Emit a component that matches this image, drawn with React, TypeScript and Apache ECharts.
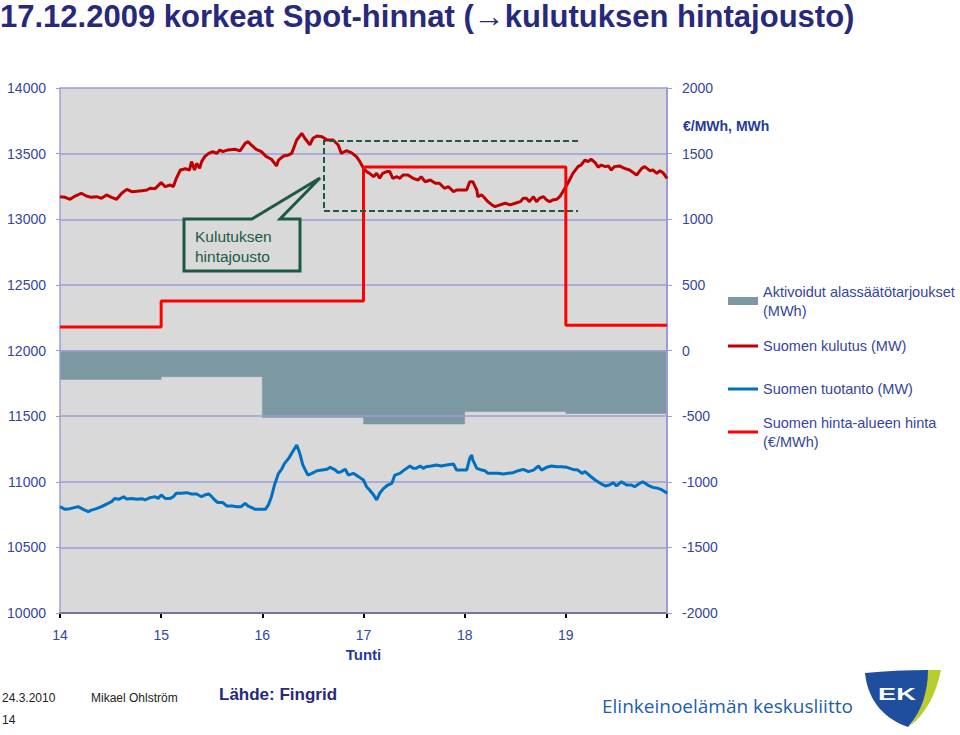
import React, { useEffect, useRef } from "react";
import * as echarts from "echarts";

// ---------- data ----------
const hourTicks = [14, 15, 16, 17, 18, 19, 20];
const leftTicks = [10000, 10500, 11000, 11500, 12000, 12500, 13000, 13500, 14000];
const rightTicks = [-2000, -1500, -1000, -500, 0, 500, 1000, 1500, 2000];

// hourly price (€/MWh), step held until next hour
const priceHours = [14, 15, 16, 17, 18, 19, 20];
const priceValues = [180, 377, 377, 1398, 1398, 193, 193];

// activated down-regulation bids (MWh), step held until next hour
const downRegHours = [14, 15, 16, 17, 18, 19, 20];
const downRegValues = [-220, -200, -510, -560, -465, -480, -480];

// Finnish consumption (MW): [hour, value]
const consumption: [number, number][] = [
  [14.0, 13172], [14.05, 13167], [14.1, 13152], [14.15, 13177], [14.21, 13198], [14.26, 13177],
  [14.31, 13167], [14.36, 13172], [14.41, 13160], [14.46, 13185], [14.51, 13167], [14.56, 13152],
  [14.61, 13198], [14.66, 13228], [14.71, 13210], [14.76, 13213], [14.81, 13218], [14.86, 13223],
  [14.89, 13236], [14.94, 13233], [15.0, 13279], [15.04, 13248], [15.09, 13261], [15.12, 13248],
  [15.15, 13312], [15.19, 13375], [15.24, 13385], [15.28, 13375], [15.3, 13439], [15.33, 13375],
  [15.35, 13426], [15.38, 13388], [15.4, 13439], [15.43, 13477], [15.47, 13502], [15.51, 13515],
  [15.55, 13502], [15.58, 13528], [15.61, 13515], [15.66, 13528], [15.73, 13533], [15.78, 13521],
  [15.83, 13578], [15.86, 13591], [15.89, 13566], [15.94, 13533], [15.99, 13515], [16.04, 13477],
  [16.09, 13457], [16.14, 13406], [16.16, 13451], [16.21, 13482], [16.26, 13490], [16.29, 13502],
  [16.34, 13604], [16.39, 13655], [16.42, 13617], [16.47, 13566], [16.5, 13617], [16.54, 13634],
  [16.59, 13629], [16.64, 13604], [16.7, 13604], [16.75, 13566], [16.78, 13502], [16.83, 13522],
  [16.88, 13508], [16.93, 13477], [16.96, 13445], [17.0, 13388], [17.03, 13363], [17.06, 13350],
  [17.1, 13324], [17.13, 13350], [17.16, 13312], [17.19, 13350], [17.23, 13363], [17.26, 13363],
  [17.29, 13312], [17.33, 13324], [17.36, 13312], [17.39, 13337], [17.44, 13337], [17.49, 13312],
  [17.54, 13299], [17.57, 13324], [17.61, 13286], [17.66, 13299], [17.71, 13274], [17.75, 13274],
  [17.8, 13236], [17.84, 13248], [17.89, 13210], [17.92, 13223], [17.97, 13223], [18.02, 13223],
  [18.05, 13286], [18.08, 13286], [18.12, 13223], [18.13, 13172], [18.17, 13185], [18.2, 13160],
  [18.23, 13134], [18.27, 13109], [18.3, 13096], [18.35, 13109], [18.4, 13122], [18.45, 13109],
  [18.5, 13122], [18.55, 13134], [18.58, 13160], [18.61, 13160], [18.64, 13134], [18.68, 13172],
  [18.71, 13134], [18.74, 13160], [18.78, 13172], [18.81, 13147], [18.84, 13134], [18.87, 13147],
  [18.91, 13152], [18.94, 13172], [18.97, 13210], [19.02, 13274], [19.07, 13350], [19.12, 13401],
  [19.15, 13413], [19.19, 13451], [19.22, 13439], [19.25, 13457], [19.29, 13431], [19.32, 13396],
  [19.35, 13413], [19.39, 13401], [19.42, 13406], [19.45, 13375], [19.48, 13401], [19.53, 13406],
  [19.58, 13388], [19.63, 13375], [19.7, 13337], [19.75, 13388], [19.78, 13401], [19.83, 13370],
  [19.86, 13375], [19.9, 13350], [19.93, 13370], [19.96, 13355], [20.0, 13312],
];

// Finnish production (MW): [hour, value]
const production: [number, number][] = [
  [14.0, 10810], [14.05, 10790], [14.1, 10795], [14.15, 10805], [14.18, 10810], [14.23, 10790],
  [14.28, 10772], [14.31, 10784], [14.36, 10795], [14.41, 10810], [14.46, 10830], [14.51, 10848],
  [14.54, 10873], [14.58, 10866], [14.63, 10886], [14.66, 10868], [14.71, 10873], [14.76, 10866],
  [14.81, 10871], [14.84, 10861], [14.89, 10879], [14.94, 10886], [14.97, 10873], [15.0, 10899],
  [15.04, 10873], [15.09, 10873], [15.12, 10886], [15.15, 10912], [15.2, 10912], [15.25, 10917],
  [15.3, 10907], [15.35, 10907], [15.4, 10886], [15.43, 10899], [15.47, 10907], [15.5, 10886],
  [15.53, 10861], [15.56, 10841], [15.61, 10841], [15.65, 10815], [15.7, 10815], [15.75, 10810],
  [15.79, 10810], [15.83, 10836], [15.86, 10815], [15.89, 10805], [15.93, 10790], [15.98, 10790],
  [16.03, 10790], [16.06, 10823], [16.09, 10886], [16.12, 10975], [16.16, 11064], [16.19, 11095],
  [16.22, 11140], [16.26, 11178], [16.31, 11242], [16.34, 11280], [16.37, 11217], [16.4, 11128],
  [16.45, 11051], [16.49, 11064], [16.54, 11084], [16.59, 11090], [16.64, 11095], [16.67, 11110],
  [16.72, 11090], [16.75, 11069], [16.78, 11077], [16.82, 11095], [16.85, 11051], [16.9, 11064],
  [16.95, 11039], [17.0, 11013], [17.03, 10962], [17.06, 10937], [17.1, 10899], [17.13, 10861],
  [17.16, 10912], [17.2, 10950], [17.24, 10975], [17.28, 10988], [17.31, 11051], [17.36, 11064],
  [17.41, 11094], [17.46, 11120], [17.49, 11102], [17.52, 11102], [17.56, 11120], [17.59, 11102],
  [17.62, 11115], [17.67, 11120], [17.72, 11128], [17.77, 11120], [17.82, 11128], [17.89, 11135],
  [17.92, 11089], [17.97, 11089], [18.02, 11089], [18.05, 11178], [18.07, 11204], [18.08, 11166],
  [18.12, 11102], [18.17, 11089], [18.2, 11084], [18.23, 11064], [18.28, 11064], [18.33, 11064],
  [18.38, 11059], [18.43, 11064], [18.48, 11069], [18.53, 11084], [18.58, 11094], [18.63, 11077],
  [18.68, 11089], [18.73, 11120], [18.76, 11089], [18.81, 11110], [18.86, 11120], [18.91, 11115],
  [18.96, 11115], [19.01, 11110], [19.07, 11094], [19.12, 11089], [19.16, 11064], [19.19, 11077],
  [19.24, 11044], [19.29, 11013], [19.34, 10988], [19.39, 10968], [19.43, 10975], [19.47, 10993],
  [19.5, 10968], [19.55, 11000], [19.6, 10975], [19.65, 10975], [19.68, 10962], [19.72, 10983],
  [19.76, 11000], [19.81, 10975], [19.86, 10957], [19.91, 10950], [19.94, 10942], [19.98, 10924],
  [20.0, 10912],
];

const seriesNames = [
  "Aktivoidut alassäätötarjoukset (MWh)",
  "Suomen kulutus (MW)",
  "Suomen tuotanto (MW)",
  "Suomen hinta-alueen hinta (€/MWh)",
];

// ---------- logo shapes ----------
echarts.graphic.registerShape(
  "ekShield",
  echarts.graphic.extendPath(
    "M0 3 C20 1 42 0 63 0 C63 20 57 42 43 57 C22 50 3 33 0 3 Z",
    {}
  )
);
echarts.graphic.registerShape(
  "ekSwoosh",
  echarts.graphic.extendPath(
    "M58 0 L76 0 C71 24 61 44 44 57 C56 42 63 22 58 0 Z",
    {}
  )
);

const FONT = "'Liberation Sans', Arial, sans-serif";
const LABEL = "#34469e";
const NAVY = "#27297a";
const GRIDC = "#9c9cd8";
const GREEN = "#1e5a43";

export default function App() {
  const ref = useRef<HTMLDivElement>(null);

  useEffect(() => {
    if (!ref.current) return;
    const chart = echarts.init(ref.current, null, { renderer: "svg" });

    const legendBase = {
      orient: "vertical",
      left: 728,
      itemWidth: 30,
      itemGap: 0,
      padding: 0,
      selectedMode: false,
    };
    const ts = { color: LABEL, fontSize: 14.5, fontFamily: FONT, lineHeight: 19 };
    const splitName = (n: string) => n.replace(" (", "\n(");
    const plain = (v: number) => String(v);

    chart.setOption({
      animation: false,
      backgroundColor: "#ffffff",
      grid: {
        left: 60,
        right: 293,
        top: 88,
        bottom: 122,
        show: true,
        backgroundColor: "#d9d9d9",
        borderWidth: 0,
      },
      legend: [
        {
          ...legendBase,
          top: 272.5,
          itemHeight: 8,
          formatter: splitName,
          textStyle: { ...ts, padding: [19, 0, 0, 0] },
          data: [{ name: seriesNames[0], icon: "rect", itemStyle: { color: "#7c98a2" } }],
        },
        {
          ...legendBase,
          top: 336.5,
          itemHeight: 3,
          textStyle: ts,
          data: [{ name: seriesNames[1], icon: "rect", itemStyle: { color: "#c00000" } }],
        },
        {
          ...legendBase,
          top: 379.5,
          itemHeight: 3,
          textStyle: ts,
          data: [{ name: seriesNames[2], icon: "rect", itemStyle: { color: "#0070c0" } }],
        },
        {
          ...legendBase,
          top: 403.5,
          itemHeight: 3,
          formatter: splitName,
          textStyle: { ...ts, padding: [19, 0, 0, 0] },
          data: [{ name: seriesNames[3], icon: "rect", itemStyle: { color: "#ff0000" } }],
        },
      ],
      xAxis: {
        type: "value",
        min: hourTicks[0],
        max: hourTicks[hourTicks.length - 1],
        interval: 1,
        name: "Tunti",
        nameLocation: "middle",
        nameGap: 34,
        nameTextStyle: { color: "#1f3c99", fontSize: 15, fontWeight: "bold", fontFamily: FONT },
        axisLine: { show: true, onZero: false, lineStyle: { color: "#000000", width: 2 } },
        axisTick: { show: true, length: 5, lineStyle: { color: "#000000", width: 2 } },
        axisLabel: {
          color: LABEL,
          fontSize: 14,
          fontFamily: FONT,
          margin: 15,
          formatter: (v: number) => (v === hourTicks[hourTicks.length - 1] ? "" : String(v)),
        },
        splitLine: { show: false },
      },
      yAxis: [
        {
          type: "value",
          min: leftTicks[0],
          max: leftTicks[leftTicks.length - 1],
          interval: 500,
          z: 3,
          axisLine: { show: true, lineStyle: { color: GRIDC, width: 1.5 } },
          axisTick: { show: true, length: 4, lineStyle: { color: GRIDC } },
          axisLabel: { color: LABEL, fontSize: 14, fontFamily: FONT, margin: 14, formatter: plain },
          splitLine: { show: true, lineStyle: { color: GRIDC, width: 1.5 } },
        },
        {
          type: "value",
          position: "right",
          min: rightTicks[0],
          max: rightTicks[rightTicks.length - 1],
          interval: 500,
          z: 3,
          axisLine: { show: true, lineStyle: { color: GRIDC, width: 2 } },
          axisTick: { show: true, length: 5, lineStyle: { color: GRIDC } },
          axisLabel: { color: LABEL, fontSize: 14, fontFamily: FONT, margin: 15, formatter: plain },
          splitLine: { show: false },
        },
      ],
      series: [
        {
          name: seriesNames[0],
          type: "line",
          yAxisIndex: 1,
          step: "end",
          symbol: "none",
          z: 2,
          data: downRegHours.map((h, i) => [h, downRegValues[i]]),
          itemStyle: { color: "#7c98a2" },
          lineStyle: { width: 0.5, color: "#7c98a2" },
          areaStyle: { color: "#7c98a2", opacity: 1 },
        },
        {
          name: seriesNames[1],
          type: "line",
          symbol: "none",
          z: 5,
          data: consumption,
          itemStyle: { color: "#c00000" },
          lineStyle: { width: 3, color: "#c00000" },
        },
        {
          name: seriesNames[2],
          type: "line",
          symbol: "none",
          z: 5,
          data: production,
          itemStyle: { color: "#0070c0" },
          lineStyle: { width: 3, color: "#0070c0" },
        },
        {
          name: seriesNames[3],
          type: "line",
          yAxisIndex: 1,
          step: "end",
          symbol: "none",
          z: 6,
          data: priceHours.map((h, i) => [h, priceValues[i]]),
          itemStyle: { color: "#ff0000" },
          lineStyle: { width: 3, color: "#ff0000" },
        },
      ],
      graphic: [
        {
          type: "text",
          x: 0,
          y: 1,
          style: {
            text: "17.12.2009 korkeat Spot-hinnat (→kulutuksen hintajousto)",
            fontSize: 31,
            fontWeight: "bold",
            fontFamily: FONT,
            fill: NAVY,
            align: "left",
            verticalAlign: "top",
          },
        },
        {
          type: "text",
          x: 683,
          y: 126,
          style: {
            text: "€/MWh, MWh",
            fontSize: 14,
            fontWeight: "bold",
            fontFamily: FONT,
            fill: "#1f3c99",
            align: "left",
            verticalAlign: "middle",
          },
        },
        {
          type: "polyline",
          z: 10,
          shape: { points: [[578, 141], [324, 141], [324, 211], [578, 211]] },
          style: { stroke: GREEN, lineWidth: 2, lineDash: [6, 3], fill: null },
        },
        {
          type: "polygon",
          z: 10,
          shape: {
            points: [[184, 219], [252, 219], [320, 178], [280, 219], [300, 219], [300, 271], [184, 271]],
          },
          style: { stroke: GREEN, lineWidth: 3, fill: "#d9d9d9" },
        },
        {
          type: "text",
          z: 11,
          x: 195,
          y: 246,
          style: {
            text: "Kulutuksen\nhintajousto",
            fontSize: 15.5,
            fontFamily: FONT,
            fill: GREEN,
            lineHeight: 20,
            align: "left",
            verticalAlign: "middle",
          },
        },
        {
          type: "text",
          x: 2,
          y: 698,
          style: { text: "24.3.2010", fontSize: 12, fontFamily: FONT, fill: "#222", verticalAlign: "middle" },
        },
        {
          type: "text",
          x: 91,
          y: 698,
          style: { text: "Mikael Ohlström", fontSize: 12, fontFamily: FONT, fill: "#222", verticalAlign: "middle" },
        },
        {
          type: "text",
          x: 2,
          y: 720,
          style: { text: "14", fontSize: 12, fontFamily: FONT, fill: "#222", verticalAlign: "middle" },
        },
        {
          type: "text",
          x: 219,
          y: 694,
          style: {
            text: "Lähde: Fingrid",
            fontSize: 17,
            fontWeight: "bold",
            fontFamily: FONT,
            fill: NAVY,
            verticalAlign: "middle",
          },
        },
        {
          type: "text",
          x: 602,
          y: 706,
          style: {
            text: "Elinkeinoelämän keskusliitto",
            fontSize: 19,
            fontFamily: "'Open Sans', 'Noto Sans', sans-serif",
            fill: "#1b5fab",
            verticalAlign: "middle",
          },
        },
        {
          type: "ekSwoosh",
          x: 865,
          y: 670,
          style: { fill: "#b8cc2e" },
        },
        {
          type: "ekShield",
          x: 865,
          y: 670,
          style: { fill: "#1f4e9e" },
        },
        {
          type: "text",
          x: 897,
          y: 694,
          scaleX: 1.6,
          originX: 0,
          originY: 0,
          style: {
            text: "EK",
            fontSize: 17,
            fontWeight: "bold",
            fontFamily: FONT,
            fill: "#ffffff",
            align: "center",
            verticalAlign: "middle",
          },
        },
      ],
    });

    return () => chart.dispose();
  }, []);

  return (
    <div
      ref={ref}
      style={{ position: "absolute", left: 0, top: 0, width: 960, height: 735 }}
    />
  );
}
